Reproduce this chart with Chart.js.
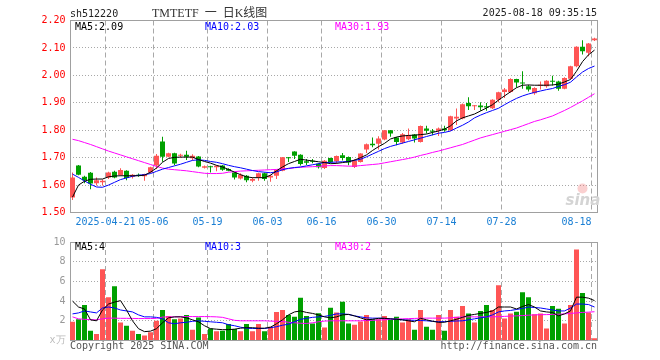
<!DOCTYPE html>
<html>
<head>
<meta charset="utf-8">
<script src="https://cdn.jsdelivr.net/npm/chart.js@4.4.1/dist/chart.umd.min.js"></script>
<style>
  html, body { margin: 0; padding: 0; background: #fff; }
  #wrap { position: relative; width: 660px; height: 360px; }
  #kline { position: absolute; left: 0; top: 0; }
  #vol { position: absolute; left: 0; top: 232px; }
</style>
</head>
<body>
<div id="wrap">
  <canvas id="kline" width="660" height="232"></canvas>
  <canvas id="vol" width="660" height="128"></canvas>
</div>
<script>
'use strict'

const UP = '#ff5555';
const DOWN = '#00a000';
const GRID = '#a8a8a8';
const MONO = '"DejaVu Sans Mono", "Liberation Mono", monospace';

const dates = [
  '2025-04-11', '2025-04-14', '2025-04-15', '2025-04-16', '2025-04-17', '2025-04-18',
  '2025-04-21', '2025-04-22', '2025-04-23', '2025-04-24', '2025-04-25', '2025-04-28',
  '2025-04-29', '2025-04-30', '2025-05-06', '2025-05-07', '2025-05-08', '2025-05-09',
  '2025-05-12', '2025-05-13', '2025-05-14', '2025-05-15', '2025-05-16', '2025-05-19',
  '2025-05-20', '2025-05-21', '2025-05-22', '2025-05-23', '2025-05-26', '2025-05-27',
  '2025-05-28', '2025-05-29', '2025-05-30', '2025-06-03', '2025-06-04', '2025-06-05',
  '2025-06-06', '2025-06-09', '2025-06-10', '2025-06-11', '2025-06-12', '2025-06-13',
  '2025-06-16', '2025-06-17', '2025-06-18', '2025-06-19', '2025-06-20', '2025-06-23',
  '2025-06-24', '2025-06-25', '2025-06-26', '2025-06-27', '2025-06-30', '2025-07-01',
  '2025-07-02', '2025-07-03', '2025-07-04', '2025-07-07', '2025-07-08', '2025-07-09',
  '2025-07-10', '2025-07-11', '2025-07-14', '2025-07-15', '2025-07-16', '2025-07-17',
  '2025-07-18', '2025-07-21', '2025-07-22', '2025-07-23', '2025-07-24', '2025-07-25',
  '2025-07-28', '2025-07-29', '2025-07-30', '2025-07-31', '2025-08-01', '2025-08-04',
  '2025-08-05', '2025-08-06', '2025-08-07', '2025-08-08', '2025-08-11', '2025-08-12',
  '2025-08-13', '2025-08-14', '2025-08-15', '2025-08-18'
];

const opens = [
  1.555, 1.671, 1.630, 1.645, 1.607, 1.610, 1.628, 1.649, 1.637, 1.652, 1.630, 1.638,
  1.632, 1.646, 1.671, 1.759, 1.703, 1.716, 1.707, 1.711, 1.698, 1.704, 1.663, 1.669,
  1.665, 1.671, 1.659, 1.646, 1.624, 1.634, 1.616, 1.628, 1.643, 1.628, 1.634, 1.652,
  1.701, 1.722, 1.711, 1.687, 1.689, 1.678, 1.662, 1.699, 1.687, 1.709, 1.702, 1.666,
  1.684, 1.730, 1.751, 1.751, 1.766, 1.800, 1.773, 1.755, 1.767, 1.784, 1.757, 1.806,
  1.798, 1.798, 1.806, 1.800, 1.843, 1.843, 1.899, 1.887, 1.890, 1.887, 1.880, 1.911,
  1.939, 1.939, 1.987, 1.974, 1.960, 1.935, 1.962, 1.960, 1.980, 1.978, 1.951, 1.988,
  2.033, 2.104, 2.082, 2.128
];
const highs = [
  1.646, 1.673, 1.634, 1.648, 1.628, 1.620, 1.649, 1.652, 1.661, 1.654, 1.640, 1.642,
  1.641, 1.667, 1.713, 1.776, 1.718, 1.718, 1.714, 1.725, 1.712, 1.706, 1.671, 1.670,
  1.672, 1.673, 1.661, 1.647, 1.643, 1.637, 1.628, 1.645, 1.646, 1.638, 1.657, 1.702,
  1.702, 1.723, 1.712, 1.695, 1.695, 1.680, 1.691, 1.700, 1.708, 1.717, 1.704, 1.694,
  1.716, 1.752, 1.773, 1.778, 1.801, 1.801, 1.775, 1.790, 1.806, 1.786, 1.817, 1.816,
  1.804, 1.810, 1.816, 1.853, 1.879, 1.897, 1.920, 1.892, 1.902, 1.899, 1.913, 1.940,
  1.954, 1.989, 1.988, 2.015, 1.966, 1.957, 1.978, 1.982, 1.999, 1.980, 1.993, 2.035,
  2.106, 2.128, 2.118, 2.137
];
const lows = [
  1.546, 1.636, 1.607, 1.585, 1.598, 1.598, 1.622, 1.625, 1.634, 1.618, 1.624, 1.630,
  1.616, 1.643, 1.659, 1.685, 1.701, 1.672, 1.700, 1.691, 1.690, 1.665, 1.660, 1.646,
  1.650, 1.652, 1.650, 1.620, 1.620, 1.610, 1.610, 1.616, 1.616, 1.612, 1.622, 1.650,
  1.684, 1.695, 1.671, 1.673, 1.680, 1.660, 1.659, 1.680, 1.678, 1.690, 1.672, 1.662,
  1.682, 1.717, 1.738, 1.730, 1.763, 1.776, 1.745, 1.751, 1.763, 1.755, 1.755, 1.788,
  1.782, 1.779, 1.794, 1.797, 1.819, 1.840, 1.874, 1.874, 1.871, 1.871, 1.877, 1.902,
  1.917, 1.937, 1.956, 1.951, 1.941, 1.929, 1.948, 1.955, 1.963, 1.944, 1.949, 1.985,
  2.030, 2.076, 2.070, 2.125
];
const closes = [
  1.628, 1.638, 1.618, 1.606, 1.618, 1.616, 1.646, 1.628, 1.655, 1.626, 1.638, 1.633,
  1.640, 1.665, 1.707, 1.703, 1.716, 1.679, 1.711, 1.703, 1.707, 1.668, 1.669, 1.665,
  1.670, 1.656, 1.652, 1.628, 1.638, 1.618, 1.622, 1.643, 1.622, 1.634, 1.655, 1.701,
  1.698, 1.707, 1.677, 1.681, 1.685, 1.665, 1.689, 1.683, 1.706, 1.699, 1.682, 1.690,
  1.715, 1.749, 1.745, 1.770, 1.800, 1.788, 1.757, 1.785, 1.782, 1.770, 1.815, 1.798,
  1.794, 1.806, 1.800, 1.851, 1.849, 1.895, 1.887, 1.890, 1.884, 1.883, 1.911, 1.938,
  1.948, 1.987, 1.974, 1.970, 1.948, 1.954, 1.966, 1.980, 1.977, 1.951, 1.990, 2.033,
  2.104, 2.088, 2.116, 2.134
];

const ma5 = [
  1.556, 1.600, 1.614, 1.621, 1.622, 1.622, 1.630, 1.633, 1.634, 1.634, 1.634, 1.634,
  1.636, 1.647, 1.662, 1.683, 1.697, 1.701, 1.702, 1.702, 1.702, 1.693, 1.686, 1.680,
  1.672, 1.666, 1.657, 1.647, 1.638, 1.630, 1.627, 1.627, 1.627, 1.636, 1.652, 1.666,
  1.678, 1.686, 1.694, 1.691, 1.688, 1.685, 1.682, 1.678, 1.679, 1.682, 1.685, 1.691,
  1.700, 1.710, 1.726, 1.740, 1.752, 1.768, 1.775, 1.779, 1.781, 1.782, 1.784, 1.786,
  1.792, 1.797, 1.804, 1.816, 1.834, 1.845, 1.852, 1.859, 1.870, 1.881, 1.893, 1.910,
  1.925, 1.940, 1.955, 1.964, 1.965, 1.964, 1.964, 1.964, 1.965, 1.968, 1.976, 1.985,
  2.015, 2.050, 2.075, 2.092
];
const ma10 = [
  1.640, 1.628, 1.615, 1.603, 1.593, 1.592, 1.600, 1.610, 1.620, 1.626, 1.632, 1.636,
  1.638, 1.642, 1.650, 1.658, 1.664, 1.670, 1.676, 1.683, 1.690, 1.692, 1.690, 1.686,
  1.683, 1.678, 1.672, 1.667, 1.663, 1.658, 1.653, 1.649, 1.647, 1.645, 1.648, 1.656,
  1.661, 1.664, 1.666, 1.670, 1.674, 1.678, 1.682, 1.683, 1.684, 1.685, 1.686, 1.690,
  1.694, 1.703, 1.713, 1.723, 1.733, 1.741, 1.747, 1.753, 1.759, 1.765, 1.771, 1.777,
  1.783, 1.789, 1.792, 1.797, 1.808, 1.818, 1.830, 1.845, 1.855, 1.864, 1.872, 1.880,
  1.893, 1.905, 1.916, 1.925, 1.932, 1.938, 1.943, 1.948, 1.952, 1.960, 1.966, 1.975,
  1.994, 2.012, 2.025, 2.034
];
const ma30 = [
  1.767, 1.762, 1.755, 1.748, 1.740, 1.732, 1.724, 1.717, 1.710, 1.703, 1.696, 1.689,
  1.682, 1.675, 1.668, 1.662, 1.658, 1.656, 1.654, 1.652, 1.649, 1.646, 1.643, 1.642,
  1.642, 1.643, 1.647, 1.649, 1.651, 1.652, 1.653, 1.654, 1.655, 1.656, 1.657, 1.659,
  1.660, 1.663, 1.665, 1.666, 1.667, 1.668, 1.670, 1.671, 1.671, 1.670, 1.669, 1.669,
  1.671, 1.673, 1.675, 1.677, 1.681, 1.685, 1.689, 1.693, 1.697, 1.702, 1.708, 1.713,
  1.719, 1.724, 1.730, 1.736, 1.742, 1.748, 1.756, 1.764, 1.772, 1.778, 1.784, 1.790,
  1.796, 1.802, 1.808, 1.816, 1.824, 1.832, 1.838, 1.845, 1.852, 1.862, 1.872, 1.883,
  1.895, 1.907, 1.920, 1.933
];

// volume, in units of 10k
const volumes = [
  1.90, 2.17, 3.60, 1.00, 0.67, 7.23, 4.40, 5.50, 1.83, 1.50, 1.00, 0.67,
  0.50, 0.83, 2.00, 3.10, 2.50, 2.17, 2.23, 2.60, 1.10, 2.33, 0.67, 1.23,
  0.93, 1.00, 1.67, 1.17, 0.93, 1.67, 0.93, 1.67, 0.93, 1.40, 2.90, 3.10,
  2.60, 2.40, 4.33, 2.50, 1.73, 2.77, 1.33, 3.33, 2.83, 3.93, 1.73, 1.60,
  1.93, 2.60, 2.17, 2.17, 2.50, 2.07, 2.40, 1.83, 2.17, 1.10, 3.10, 1.40,
  1.10, 2.60, 1.00, 3.10, 2.40, 3.50, 2.73, 1.83, 3.00, 3.60, 3.10, 5.60,
  2.23, 2.73, 2.93, 4.90, 4.40, 2.67, 2.73, 1.23, 3.50, 3.23, 1.73, 3.60,
  9.23, 4.83, 2.83, 0.23
];
const volMa5 = [
  4.00, 3.40, 3.20, 2.10, 2.00, 3.10, 3.70, 3.90, 4.05, 3.10, 2.00, 1.20,
  0.90, 0.95, 1.20, 1.80, 2.30, 2.40, 2.40, 2.30, 2.10, 1.90, 1.50, 1.20,
  1.15, 1.10, 1.10, 1.15, 1.25, 1.30, 1.30, 1.25, 1.25, 1.35, 1.70, 2.10,
  2.60, 2.90, 3.00, 2.85, 2.75, 2.60, 2.40, 2.30, 2.40, 2.60, 2.65, 2.50,
  2.30, 2.10, 2.15, 2.25, 2.25, 2.20, 2.15, 2.10, 2.00, 1.90, 2.25, 2.10,
  1.95, 1.85, 1.85, 2.00, 2.15, 2.35, 2.55, 2.65, 2.75, 2.85, 3.00, 3.40,
  3.40, 3.40, 3.20, 3.45, 3.65, 3.40, 3.00, 2.90, 2.85, 2.50, 2.70, 3.00,
  4.40, 4.40, 4.30, 4.05
];
const volMa10 = [
  2.70, 2.80, 3.00, 2.90, 2.80, 3.30, 3.40, 3.30, 3.10, 3.00, 2.90, 2.60,
  2.40, 2.40, 2.35, 2.20, 1.80, 1.70, 1.80, 1.85, 1.95, 2.00, 1.95, 1.90,
  1.85, 1.80, 1.60, 1.50, 1.35, 1.25, 1.22, 1.22, 1.22, 1.30, 1.40, 1.55,
  1.65, 1.90, 2.15, 2.25, 2.35, 2.40, 2.45, 2.55, 2.70, 2.70, 2.65, 2.50,
  2.40, 2.30, 2.27, 2.27, 2.25, 2.20, 2.15, 2.10, 2.07, 2.05, 2.03, 2.00,
  1.95, 1.90, 1.92, 1.95, 1.98, 2.00, 2.10, 2.20, 2.30, 2.40, 2.60, 2.90,
  3.00, 3.05, 3.15, 3.25, 3.40, 3.35, 3.30, 3.20, 3.10, 3.00, 3.00, 3.30,
  3.70, 3.70, 3.65, 3.40
];
const volMa30 = [
  2.40, 2.20, 2.15, 2.12, 2.10, 2.20, 2.27, 2.27, 2.25, 2.25, 2.24, 2.23,
  2.23, 2.23, 2.25, 2.38, 2.40, 2.40, 2.42, 2.43, 2.43, 2.43, 2.43, 2.42,
  2.40, 2.35, 2.20, 2.05, 2.00, 2.00, 2.00, 2.00, 2.00, 1.97, 1.95, 1.93,
  1.85, 1.80, 1.75, 1.73, 1.80, 1.90, 1.97, 2.00, 2.00, 2.00, 2.00, 2.00,
  2.00, 2.03, 2.05, 2.08, 2.10, 2.15, 2.18, 2.20, 2.22, 2.24, 2.26, 2.27,
  2.27, 2.27, 2.27, 2.30, 2.35, 2.40, 2.40, 2.40, 2.40, 2.40, 2.40, 2.42,
  2.45, 2.48, 2.50, 2.53, 2.57, 2.60, 2.62, 2.63, 2.65, 2.67, 2.70, 2.75,
  2.80, 2.85, 2.88, 2.92
];

const tickDates = ['2025-04-21', '2025-05-06', '2025-05-19', '2025-06-03', '2025-06-16',
  '2025-06-30', '2025-07-14', '2025-07-28', '2025-08-18'];
// trailing spaces keep the last label inside the frame
const tickLabels = ['2025-04-21', '05-06', '05-19', '06-03', '06-16',
  '06-30', '07-14', '07-28', '08-18     '];

const last = closes.length - 1;
const isUp = i => closes[i] >= opens[i];
const candleColor = ctx => isUp(ctx.dataIndex) ? UP : DOWN;
const gridX = ctx => tickDates.includes(dates[ctx.index]) ? GRID : 'rgba(0,0,0,0)';

const xScale = (showLabels) => ({
  offset: true,
  grid: { color: gridX, offset: true, drawTicks: false },
  border: { display: false, dash: [5, 3] },
  ticks: {
    display: showLabels,
    autoSkip: false,
    maxRotation: 0,
    padding: 4,
    labelOffset: -3,
    color: '#1a7fd4',
    font: { family: MONO, size: 10 },
    callback: (v, i) => {
      const k = tickDates.indexOf(dates[i]);
      return k < 0 ? '' : tickLabels[k];
    }
  },
  afterFit: s => { s.height = showLabels ? 19.5 : 0; }
});

const frame = {
  id: 'frame',
  beforeDatasetsDraw(chart) {
    const { ctx, chartArea: a } = chart;
    const l = Math.ceil(a.left) + 0.5, r = Math.floor(a.right) + 0.5;
    const t = Math.floor(a.top) + 0.5, b = Math.floor(a.bottom) + 0.5;
    ctx.save();
    ctx.strokeStyle = '#a0a0a0';
    ctx.lineWidth = 1;
    ctx.strokeRect(l, t, r - l, b - t);
    ctx.restore();
  }
};

const klineText = {
  id: 'klineText',
  beforeDatasetsDraw(chart) {
    const { ctx, chartArea: a } = chart;
    ctx.save();
    ctx.fillStyle = '#d4d4d4';
    ctx.font = 'italic bold 15px "DejaVu Sans", sans-serif';
    ctx.fillText('sina', a.right - 32, a.bottom - 8);
    ctx.fillStyle = 'rgba(240,120,120,0.35)';
    ctx.beginPath();
    ctx.arc(a.right - 15, a.bottom - 24, 5, 0, Math.PI * 2);
    ctx.fill();
    ctx.restore();
  },
  afterDraw(chart) {
    const { ctx } = chart;
    ctx.save();
    ctx.font = '10px ' + MONO;
    ctx.fillStyle = '#222';
    ctx.textAlign = 'left';
    ctx.fillText('sh512220', 70, 17);
    ctx.textAlign = 'right';
    ctx.fillText('2025-08-18 09:35:15', 597, 16);
    ctx.textAlign = 'left';
    ctx.fillStyle = '#333';
    ctx.font = '12px "Liberation Serif", "Noto Sans CJK SC", serif';
    ctx.fillText('TMTETF  一  日K线图', 152, 17);
    ctx.font = '10px ' + MONO;
    ctx.fillStyle = '#000';
    ctx.fillText('MA5:' + ma5[last].toFixed(2), 75, 29.5);
    ctx.fillStyle = '#0000ff';
    ctx.fillText('MA10:' + ma10[last].toFixed(2), 205, 29.5);
    ctx.fillStyle = '#ff00ff';
    ctx.fillText('MA30:' + ma30[last].toFixed(2), 335, 29.5);
    ctx.restore();
  }
};

const volText = {
  id: 'volText',
  afterDraw(chart) {
    const { ctx } = chart;
    ctx.save();
    ctx.font = '10px ' + MONO;
    ctx.fillStyle = '#000';
    ctx.fillText('MA5:' + Math.floor(volMa5[last]), 75, 18);
    ctx.fillStyle = '#0000ff';
    ctx.fillText('MA10:' + Math.floor(volMa10[last]), 205, 18);
    ctx.fillStyle = '#ff00ff';
    ctx.fillText('MA30:' + Math.floor(volMa30[last]), 335, 18);
    ctx.fillStyle = '#555';
    ctx.fillText('Copyright 2025 SINA.COM', 70, 117);
    ctx.textAlign = 'right';
    ctx.fillText('http://finance.sina.com.cn', 597, 117);
    ctx.restore();
  }
};

const lineDefaults = { borderWidth: 1, pointRadius: 0, tension: 0 };
const barDefaults = { grouped: false, inflateAmount: 0, borderWidth: 0 };

new Chart(document.getElementById('kline'), {
  type: 'bar',
  data: {
    labels: dates,
    datasets: [
      { type: 'line', label: 'MA5', data: ma5, borderColor: '#000000', order: 1 },
      { type: 'line', label: 'MA10', data: ma10, borderColor: '#0000ff', order: 2 },
      { type: 'line', label: 'MA30', data: ma30, borderColor: '#ff00ff', order: 3 },
      { label: 'body', data: opens.map((o, i) => [o, closes[i]]), barThickness: 5,
        minBarLength: 1, backgroundColor: candleColor, order: 4 },
      { label: 'wick', data: lows.map((l, i) => [l, highs[i]]), barThickness: 1,
        backgroundColor: candleColor, order: 5 }
    ]
  },
  options: {
    responsive: false,
    animation: false,
    layout: { padding: { left: 0, right: 62.5, top: 20.5, bottom: 0 } },
    datasets: { bar: barDefaults, line: lineDefaults },
    plugins: { legend: { display: false }, tooltip: { enabled: false } },
    scales: {
      x: xScale(true),
      y: {
        min: 1.5,
        max: 2.2,
        grid: { color: ctx => (ctx.index === 0 || ctx.index === 7) ? 'rgba(0,0,0,0)' : GRID, drawTicks: false },
        border: { display: false, dash: [1, 2] },
        ticks: {
          stepSize: 0.1,
          padding: 4,
          color: '#ff0000',
          font: { family: MONO, size: 10 },
          callback: v => v.toFixed(2)
        },
        afterFit: s => { s.width = 69.5; }
      }
    }
  },
  plugins: [frame, klineText]
});

new Chart(document.getElementById('vol'), {
  type: 'bar',
  data: {
    labels: dates,
    datasets: [
      { type: 'line', label: 'MA5', data: volMa5, borderColor: '#000000', order: 1 },
      { type: 'line', label: 'MA10', data: volMa10, borderColor: '#0000ff', order: 2 },
      { type: 'line', label: 'MA30', data: volMa30, borderColor: '#ff00ff', order: 3 },
      { label: 'volume', data: volumes, barThickness: 5, backgroundColor: candleColor, order: 4 }
    ]
  },
  options: {
    responsive: false,
    animation: false,
    layout: { padding: { left: 0, right: 62.5, top: 8.5, bottom: 19.5 } },
    datasets: { bar: barDefaults, line: lineDefaults },
    plugins: { legend: { display: false }, tooltip: { enabled: false } },
    scales: {
      x: xScale(false),
      y: {
        min: 0,
        max: 10,
        grid: { color: ctx => (ctx.index === 0 || ctx.index === 5) ? 'rgba(0,0,0,0)' : GRID, drawTicks: false },
        border: { display: false, dash: [1, 2] },
        ticks: {
          stepSize: 2,
          padding: 4,
          color: ctx => ctx.index === 0 ? '#bbbbbb' : '#999999',
          font: { family: MONO, size: 10 },
          callback: v => v === 0 ? 'x万' : v
        },
        afterFit: s => { s.width = 69.5; }
      }
    }
  },
  plugins: [frame, volText]
});
</script>
</body>
</html>
